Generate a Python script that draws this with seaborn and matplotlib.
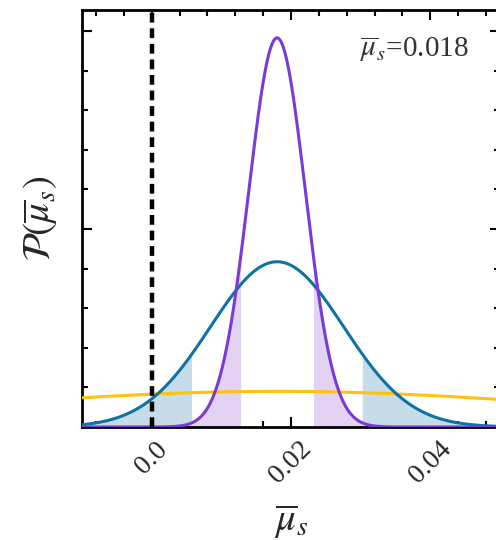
import numpy as np
import pandas as pd
import matplotlib
matplotlib.use("Agg")
import matplotlib.pyplot as plt
import seaborn as sns
from matplotlib.ticker import MultipleLocator

# ---- data ----
series = ["broad", "medium", "narrow"]
means = [0.018, 0.018, 0.018]
sigmas = [0.0443, 0.00956, 0.00406]
colors = ["#FFC20E", "#0E72A6", "#7B3AD8"]
fill_colors = ["#FFE9A8", "#C6DCE8", "#E3D3F3"]
shade_lo = [None, 0.00575, 0.0128]   # shaded where x < lo
shade_hi = [None, 0.0302, 0.0232]    # shaded where x > hi
x_ticks = [0.0, 0.02, 0.04]
x_tick_labels = ["0.0", "0.02", "0.04"]
x_range = [-0.01, 0.05]
y_range = [0, 105.3]
annotation = r"$\overline{\mu}_s$=0.018"

sns.set_theme(style="ticks")
plt.rcParams["font.family"] = ["Liberation Serif", "DejaVu Serif"]
plt.rcParams["mathtext.fontset"] = "stix"

fig = plt.figure(figsize=(4.96, 5.40), dpi=100)
ax = fig.add_axes([82 / 496, 113 / 540, 418 / 496, 417 / 540])

xs = np.linspace(x_range[0], x_range[1], 1200)
frames = []
for name, m, s in zip(series, means, sigmas):
    pdf = np.exp(-0.5 * ((xs - m) / s) ** 2) / (s * np.sqrt(2 * np.pi))
    frames.append(pd.DataFrame({"x": xs, "p": pdf, "series": name}))
df = pd.concat(frames, ignore_index=True)

# fills first
for name, lo, hi, fc in zip(series, shade_lo, shade_hi, fill_colors):
    if lo is None:
        continue
    d = df[df.series == name]
    ax.fill_between(d.x, 0, d.p, where=d.x <= lo, color=fc, lw=0, zorder=1)
    ax.fill_between(d.x, 0, d.p, where=d.x >= hi, color=fc, lw=0, zorder=1)

sns.lineplot(data=df, x="x", y="p", hue="series", palette=dict(zip(series, colors)),
             hue_order=series, linewidth=2.2, legend=False, ax=ax, zorder=3)

ax.axvline(0.0, color="black", lw=3.2, ls=(0, (2.2, 1.3)), zorder=4)

ax.set_xlim(*x_range)
ax.set_ylim(*y_range)
ax.set_xticks(x_ticks)
ax.set_xticklabels(x_tick_labels, rotation=45, ha="center", va="top",
                   fontsize=20)
ax.xaxis.set_minor_locator(MultipleLocator(0.004))
ax.yaxis.set_major_locator(MultipleLocator(50))
ax.yaxis.set_minor_locator(MultipleLocator(10))
ax.set_yticklabels([])
ax.tick_params(which="both", direction="in", top=True, right=True, width=1.5, color="black")
ax.tick_params(which="major", length=7)
ax.tick_params(which="minor", length=4)
ax.tick_params(axis="x", which="major", pad=7)
for sp in ax.spines.values():
    sp.set_linewidth(2)
    sp.set_color("black")

ax.set_xlabel(r"$\overline{\mu}_s$", fontsize=28, labelpad=10)
ax.set_ylabel(r"$\mathcal{P}(\overline{\mu}_s)$", fontsize=28, labelpad=12)
ax.text(0.665, 0.905, annotation, transform=ax.transAxes, fontsize=21,
        ha="left", va="center", color="#333333")

fig.savefig("out.png", dpi=100)
